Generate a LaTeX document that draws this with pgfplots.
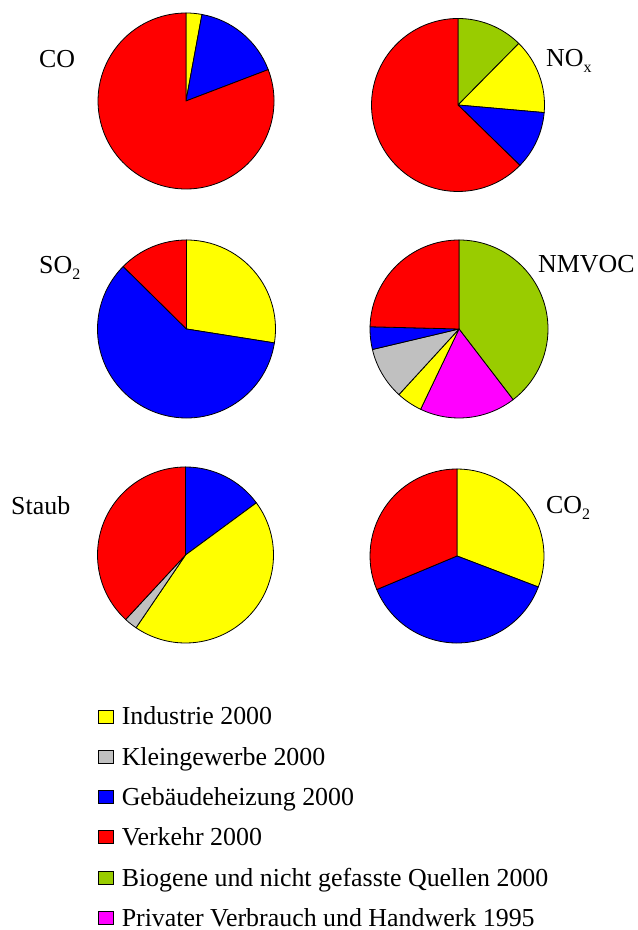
\documentclass[border=0pt]{standalone}
\usepackage{fontspec}
\setmainfont{Liberation Serif}
\usepackage{pgfplots}
\pgfplotsset{compat=1.18}

\definecolor{cInd}{HTML}{FFFF00}
\definecolor{cKlein}{HTML}{C0C0C0}
\definecolor{cGeb}{HTML}{0000FF}
\definecolor{cVerk}{HTML}{FF0000}
\definecolor{cBio}{HTML}{99CC00}
\definecolor{cPriv}{HTML}{FF00FF}

% shares in percent, clockwise from 12 o'clock
\def\dataCO{2.9/cInd, 16.3/cGeb, 80.8/cVerk}
\def\dataNOx{12.4/cBio, 14.0/cInd, 10.9/cGeb, 62.7/cVerk}
\def\dataSO{27.5/cInd, 59.9/cGeb, 12.6/cVerk}
\def\dataNMVOC{39.6/cBio, 17.5/cPriv, 4.7/cInd, 9.5/cKlein, 4.1/cGeb, 24.6/cVerk}
\def\dataStaub{14.9/cGeb, 44.6/cInd, 2.4/cKlein, 38.1/cVerk}
\def\dataCOz{30.8/cInd, 37.9/cGeb, 31.3/cVerk}

% #1 cx, #2 cy, #3 radius (bp), #4 list
\newcommand\pie[4]{%
  \xdef\pieacc{0}%
  \foreach \v/\c in #4 {%
    \pgfmathsetmacro\pa{90-3.6*\pieacc}%
    \pgfmathsetmacro\pb{90-3.6*(\pieacc+\v)}%
    \edef\temp{\noexpand\filldraw[fill=\c, draw=black, line width=0.8bp, line join=round]
      (axis cs:#1,#2) -- ++(\pa:#3bp) arc[start angle=\pa, end angle=\pb, radius=#3bp] -- cycle;}%
    \temp
    \pgfmathsetmacro\tmp{\pieacc+\v}%
    \xdef\pieacc{\tmp}%
  }%
}

\newcommand\lab[3]{\node[anchor=base west, inner sep=0pt, font=\fontsize{26}{31}\selectfont] at (axis cs:#1,#2) {#3};}
\newcommand\sub[1]{\raisebox{-6bp}{\fontsize{16}{16}\selectfont #1}}

\begin{document}
\begin{tikzpicture}
\begin{axis}[
    width=637bp, height=930bp, scale only axis,
    xmin=0, xmax=637, ymin=-930, ymax=0,
    hide axis, clip=false,
    legend image code/.code={\draw[#1, line width=0.8bp] (0bp,-5.5bp) rectangle (15bp,7.5bp);},
    legend style={at={(0.1538,0.2398)}, anchor=north west, draw=none, fill=none,
        inner sep=0pt, outer sep=0pt, row sep=19.3bp,
        font=\fontsize{26}{31}\selectfont,
        cells={anchor=west},
        nodes={inner sep=0pt, text height=18bp, text depth=3bp},
        /tikz/every odd column/.append style={column sep=8bp}},
]
\pie{186}{-101}{88}{\dataCO}
\pie{458}{-105}{86.5}{\dataNOx}
\pie{186.5}{-329}{89}{\dataSO}
\pie{459}{-329}{89}{\dataNMVOC}
\pie{185.5}{-555}{88}{\dataStaub}
\pie{457}{-556}{87}{\dataCOz}

\lab{39}{-68}{CO}
\lab{546}{-67}{NO\sub{x}}
\lab{39}{-274}{SO\sub{2}}
\lab{538}{-273}{NMVOC}
\lab{11}{-515}{Staub}
\lab{546}{-514}{CO\sub{2}}

\addlegendimage{fill=cInd, draw=black}
\addlegendentry{Industrie 2000}
\addlegendimage{fill=cKlein, draw=black}
\addlegendentry{Kleingewerbe 2000}
\addlegendimage{fill=cGeb, draw=black}
\addlegendentry{Gebäudeheizung 2000}
\addlegendimage{fill=cVerk, draw=black}
\addlegendentry{Verkehr 2000}
\addlegendimage{fill=cBio, draw=black}
\addlegendentry{Biogene und nicht gefasste Quellen 2000}
\addlegendimage{fill=cPriv, draw=black}
\addlegendentry{Privater Verbrauch und Handwerk 1995}
\end{axis}
\pgfresetboundingbox
\path[use as bounding box] (current axis.south west) rectangle (current axis.north east);
\end{tikzpicture}
\end{document}
